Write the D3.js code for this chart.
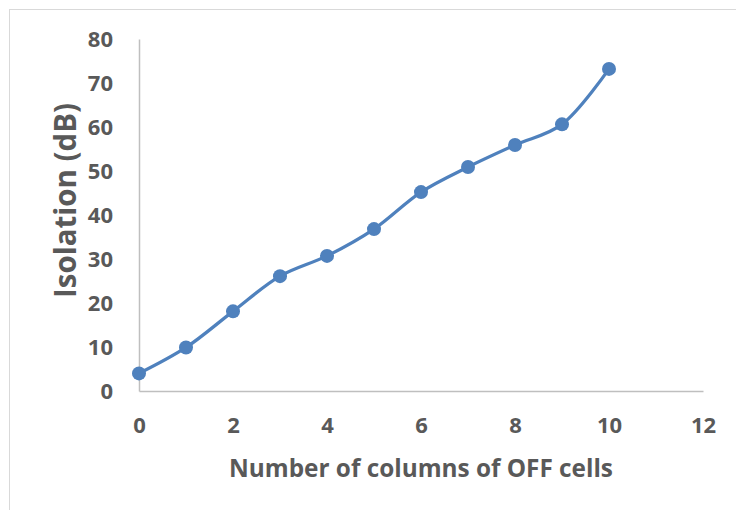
<!DOCTYPE html>
<html>
<head>
<meta charset="utf-8">
<script src="https://cdn.jsdelivr.net/npm/d3@7"></script>
<style>
  html, body { margin: 0; padding: 0; background: #ffffff; }
  svg { display: block; }
  text { font-family: "Open Sans", "Liberation Sans", sans-serif; font-weight: bold; fill: #595959; }
</style>
</head>
<body>
<svg id="chart" width="736" height="510"></svg>
<script>
// ---- data ----
const columnsOff = [0, 1, 2, 3, 4, 5, 6, 7, 8, 9, 10];
const isolationDb = [4.0, 9.9, 18.1, 26.1, 30.7, 36.8, 45.2, 50.9, 55.9, 60.6, 73.2];
const xTicks = [0, 2, 4, 6, 8, 10, 12];
const yTicks = [0, 10, 20, 30, 40, 50, 60, 70, 80];
const xTitle = "Number of columns of OFF cells";
const yTitle = "Isolation (dB)";

// ---- layout ----
const W = 736, H = 510;
const plot = { left: 139, right: 703, top: 39, bottom: 391 };
const svg = d3.select("#chart");

// chart area border
svg.append("rect")
  .attr("x", 9.5).attr("y", 9.5)
  .attr("width", W + 20).attr("height", H + 20)
  .attr("fill", "none").attr("stroke", "#d9d9d9").attr("stroke-width", 1);

const x = d3.scaleLinear().domain([0, 12]).range([plot.left, plot.right]);
const y = d3.scaleLinear().domain([0, 80]).range([plot.bottom, plot.top]);

// x axis
const xAxisG = svg.append("g")
  .attr("transform", `translate(0,${plot.bottom})`)
  .call(d3.axisBottom(x).tickValues(xTicks).tickSize(0).tickPadding(26).tickFormat(d3.format("d")));
xAxisG.select(".domain").attr("stroke", "#bfbfbf").attr("stroke-width", 1.5);
xAxisG.selectAll("text").attr("font-size", 22).style("font-family", null).attr("font-family", null)
  .attr("fill", "#595959");

// y axis
const yAxisG = svg.append("g")
  .attr("transform", `translate(${plot.left},0)`)
  .call(d3.axisLeft(y).tickValues(yTicks).tickSize(0).tickPadding(26).tickFormat(d3.format("d")));
yAxisG.select(".domain").attr("stroke", "#bfbfbf").attr("stroke-width", 1.5);
yAxisG.selectAll("text").attr("font-size", 22).attr("font-family", null).attr("fill", "#595959");

// ensure CSS font applies (axis sets font-family on g)
svg.selectAll("g").attr("font-family", null);

// line
const pts = columnsOff.map((c, i) => [c, isolationDb[i]]);
const line = d3.line()
  .x(d => x(d[0])).y(d => y(d[1]))
  .curve(d3.curveCatmullRom.alpha(0.5));
svg.append("path")
  .datum(pts)
  .attr("d", line)
  .attr("fill", "none")
  .attr("stroke", "#4f81bd")
  .attr("stroke-width", 3.25)
  .attr("stroke-linejoin", "round");

svg.append("g").selectAll("circle")
  .data(pts).join("circle")
  .attr("cx", d => x(d[0])).attr("cy", d => y(d[1]))
  .attr("r", 7)
  .attr("fill", "#4f81bd");

// titles
const xt = svg.append("text")
  .attr("x", (229 + 613) / 2).attr("y", 477)
  .attr("text-anchor", "middle")
  .attr("font-size", 24)
  .text(xTitle);
// fit to measured width in reference
const xtw = xt.node().getComputedTextLength();
xt.attr("font-size", 24 * 384 / xtw);

const yt = svg.append("text")
  .attr("transform", `translate(76,200.5) rotate(-90)`)
  .attr("text-anchor", "middle")
  .attr("font-size", 24)
  .text(yTitle);
const ytw = yt.node().getComputedTextLength();
yt.attr("font-size", 24 * 195 / ytw);
</script>
</body>
</html>
